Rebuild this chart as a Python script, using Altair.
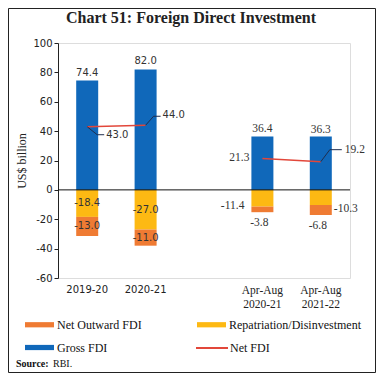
import altair as alt
import pandas as pd

# ---- data ----
categories = ["2019-20", "2020-21", "Apr-Aug|2020-21", "Apr-Aug|2021-22"]
x_domain = ["2019-20", "2020-21", "gap", "Apr-Aug|2020-21", "Apr-Aug|2021-22"]
gross_fdi = [74.4, 82.0, 36.4, 36.3]
repatriation = [-18.4, -27.0, -11.4, -10.3]
net_outward = [-13.0, -11.0, -3.8, -6.8]
net_fdi = [43.0, 44.0, 21.3, 19.2]
period_group = ["Annual", "Annual", "AprAug", "AprAug"]
y_ticks = [-60, -40, -20, 0, 20, 40, 60, 80, 100]

BLUE = "#1068BA"
YELLOW = "#FDB913"
ORANGE = "#EF7B33"
RED = "#E2473A"
LEAD = "#1F2D4E"
SANS = "DejaVu Sans"
SERIF = "Liberation Serif"

base = pd.DataFrame({
    "cat": categories, "gross": gross_fdi, "rep": repatriation,
    "out": net_outward, "net": net_fdi, "grp": period_group,
})
base["rep_mid"] = base["rep"] / 2
base["out_end"] = base["rep"] + base["out"]
base["out_mid"] = base["rep"] + base["out"] / 2
for col in ["gross", "rep", "out", "net"]:
    base[col + "_t"] = [f"{v:.1f}" for v in base[col]]

neg_rows = []
for c, r, o in zip(categories, repatriation, net_outward):
    neg_rows.append({"cat": c, "series": "Repatriation/Disinvestment", "y0": 0.0, "y1": r})
    neg_rows.append({"cat": c, "series": "Net Outward FDI", "y0": r, "y1": r + o})
neg = pd.DataFrame(neg_rows)
gross_df = pd.DataFrame({"cat": categories, "y0": [0.0] * 4, "y1": gross_fdi, "series": ["Gross FDI"] * 4})
one = pd.DataFrame({"a": [0]})
zero_df = pd.DataFrame({"z": [0.0]})

label_font_cond = {"condition": {"test": "indexof(datum.value, 'Apr') >= 0", "value": SERIF}, "value": SANS}
label_size_cond = {"condition": {"test": "indexof(datum.value, 'Apr') >= 0", "value": 11.5}, "value": 10}

X = alt.X("cat:N", title=None,
          scale=alt.Scale(domain=x_domain, paddingInner=0, paddingOuter=0),
          axis=alt.Axis(labelExpr="datum.value == 'gap' ? '' : split(datum.value, '|')",
                        labelAngle=0, domain=False, ticks=False, labelPadding=6,
                        labelColor="#222", labelFont=label_font_cond, labelFontSize=label_size_cond,
                        labelLineHeight=14))

yscale = alt.Scale(domain=[-60, 100], nice=False, zero=False)
yaxis = alt.Axis(values=y_ticks, grid=False, domainColor="#222", tickColor="#222",
                 labelExpr="'' + datum.value", labelOverlap=False,
                 tickSize=4, labelFont=SANS, labelFontSize=10, labelColor="#222",
                 titleFont=SERIF, titleFontSize=12, titleFontWeight="normal", titleColor="#222",
                 titlePadding=4)


def Y(field):
    return alt.Y(field, scale=yscale, axis=yaxis, title="US$ billion")


bars_neg = alt.Chart(neg).mark_bar(size=22).encode(
    x=X, y=Y("y1:Q"), y2="y0:Q",
    color=alt.Color("series:N",
                    scale=alt.Scale(domain=["Net Outward FDI", "Repatriation/Disinvestment"],
                                    range=[ORANGE, YELLOW]),
                    legend=alt.Legend(title=None, orient="none", legendX=-33, legendY=267,
                                      direction="horizontal", columns=2, columnPadding=55,
                                      symbolType="M-1,-0.18H1V0.18H-1Z", symbolSize=841,
                                      symbolStrokeWidth=0, labelFont=SERIF, labelFontSize=12,
                                      labelColor="#111", labelOffset=3)),
)

bars_gross = alt.Chart(gross_df).mark_bar(size=22).encode(
    x=X, y=Y("y1:Q"), y2="y0:Q",
    fill=alt.Fill("series:N", scale=alt.Scale(domain=["Gross FDI"], range=[BLUE]),
                  legend=alt.Legend(title=None, orient="none", legendX=-33, legendY=290,
                                    symbolType="M-1,-0.18H1V0.18H-1Z", symbolSize=841,
                                    symbolStrokeWidth=0, labelFont=SERIF, labelFontSize=12,
                                    labelColor="#111", labelOffset=3)),
)

zero_rule = alt.Chart(zero_df).mark_rule(color="#111", strokeWidth=1).encode(y=Y("z:Q"))

line = alt.Chart(base).transform_calculate(series="'Net FDI'").mark_line(strokeWidth=1.5).encode(
    x=X, y=Y("net:Q"), detail="grp:N",
    stroke=alt.Stroke("series:N", scale=alt.Scale(domain=["Net FDI"], range=[RED]),
                      legend=alt.Legend(title=None, orient="none", legendX=137, legendY=288,
                                        symbolType="stroke", symbolSize=1024, symbolStrokeWidth=2,
                                        labelFont=SERIF, labelFontSize=12, labelColor="#111",
                                        labelOffset=1)),
)


def text_layer(cats, yfield, tfield, dx=0, dy=0, align="center", baseline="middle",
               font=SANS, size=10, color="#333"):
    return alt.Chart(base).transform_filter(
        alt.FieldOneOfPredicate(field="cat", oneOf=cats)
    ).mark_text(dx=dx, dy=dy, align=align, baseline=baseline, font=font,
                fontSize=size, color=color).encode(
        x=X, y=Y(yfield), text=alt.Text(tfield))


def leader(cat, ox1, oy1, ox2, oy2):
    return alt.Chart(base).transform_filter(
        alt.FieldEqualPredicate(field="cat", equal=cat)
    ).mark_rule(color=LEAD, strokeWidth=1, xOffset=ox1, yOffset=oy1,
                x2Offset=ox2, y2Offset=oy2).encode(
        x=X, x2="cat:N", y=Y("net:Q"), y2="net:Q")


ann = categories[:2]
apr = categories[2:]

labels = [
    text_layer(ann, "gross:Q", "gross_t:N", dy=-3, baseline="bottom"),
    text_layer(apr, "gross:Q", "gross_t:N", dy=-2, baseline="bottom", font=SERIF, size=11.5),
    text_layer(ann, "rep_mid:Q", "rep_t:N"),
    text_layer(ann, "out_mid:Q", "out_t:N"),
    text_layer([categories[2]], "rep:Q", "rep_t:N", dx=-18, dy=-1, align="right", font=SERIF, size=11.5),
    text_layer([categories[3]], "rep:Q", "rep_t:N", dx=13, dy=4, align="left", font=SERIF, size=11.5),
    text_layer(apr, "out_end:Q", "out_t:N", dx=-3, dy=5, baseline="top", font=SERIF, size=11.5),
    text_layer([categories[0]], "net:Q", "net_t:N", dx=19, dy=8, align="left"),
    text_layer([categories[1]], "net:Q", "net_t:N", dx=17, dy=-10, align="left"),
    text_layer([categories[2]], "net:Q", "net_t:N", dx=-13, dy=-1, align="right", font=SERIF, size=11.5),
    text_layer([categories[3]], "net:Q", "net_t:N", dx=24, dy=-12, align="left", font=SERIF, size=11.5),
]

leaders = [
    leader(categories[0], 0, 0, 10, 8), leader(categories[0], 10, 8, 17, 8),
    leader(categories[1], 0, 0, 8, -9), leader(categories[1], 8, -9, 15, -9),
    leader(categories[3], 0, 0, 9, -12), leader(categories[3], 9, -12, 21, -12),
]

title_txt = alt.Chart(one).mark_text(align="center", baseline="middle", font=SERIF, fontSize=16,
                                     fontWeight="bold", color="#222").encode(
    x=alt.value(133), y=alt.value(-25), text=alt.value("Chart 51: Foreign Direct Investment"))

source_bold = alt.Chart(one).mark_text(align="left", baseline="middle", font=SERIF, fontSize=10,
                                       fontWeight="bold", color="#111").encode(
    x=alt.value(-42), y=alt.value(321), text=alt.value("Source:"))
source_txt = alt.Chart(one).mark_text(align="left", baseline="middle", font=SERIF, fontSize=10,
                                      color="#111").encode(
    x=alt.value(-5), y=alt.value(321), text=alt.value("RBI."))

border = alt.Chart(one).mark_rect(filled=False, stroke="#222", strokeWidth=1).encode(
    x=alt.value(-49.5), x2=alt.value(317.5), y=alt.value(-34.5), y2=alt.value(329.5))

chart = alt.layer(
    bars_gross, bars_neg, zero_rule, line, *leaders, *labels,
    title_txt, source_bold, source_txt, border
).resolve_scale(color="independent").properties(
    width=292, height=235,
    autosize=alt.AutoSizeParams(type="none"),
    padding={"left": 50, "top": 35, "right": 26, "bottom": 95},
).configure_view(stroke=None).configure(background="white")

chart.save("out.html", embed_options={"renderer": "svg", "actions": False})
